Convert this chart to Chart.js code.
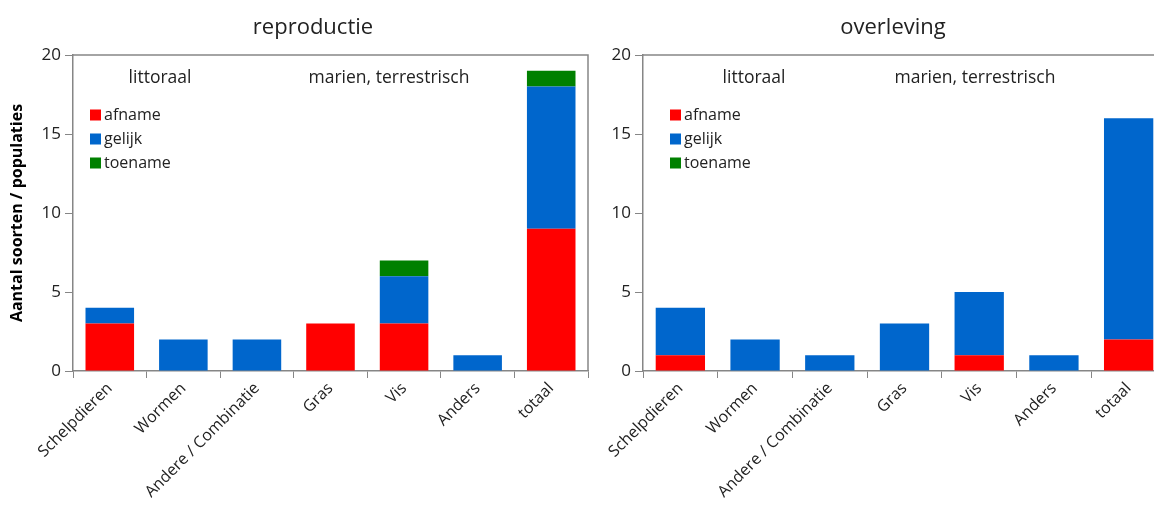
<!DOCTYPE html>
<html>
<head>
<meta charset="utf-8">
<script src="https://cdn.jsdelivr.net/npm/chart.js@4/dist/chart.umd.min.js"></script>
<style>
    html, body { margin: 0; padding: 0; background: #fff; }
    body { width: 1154px; height: 506px; overflow: hidden; position: relative; }
    .panel { position: absolute; top: 0; height: 506px; }
    #left { left: 0; width: 626px; }
    #right { left: 600px; width: 600px; }
</style>
</head>
<body>
<div class="panel" id="left"><canvas id="cLeft"></canvas></div>
<div class="panel" id="right"><canvas id="cRight"></canvas></div>
<script>
/* Two stacked-bar panels: reproduction and survival trends per prey group. */

const categories = ['Schelpdieren', 'Wormen', 'Andere / Combinatie', 'Gras', 'Vis', 'Anders', 'totaal'];
const seriesNames = ['afname', 'gelijk', 'toename'];
const seriesColors = ['#FF0000', '#0066CC', '#008000'];
const yTicks = [0, 5, 10, 15, 20];

const reproAfname  = [3, 0, 0, 3, 3, 0, 9];
const reproGelijk  = [1, 2, 2, 0, 3, 1, 9];
const reproToename = [0, 0, 0, 0, 1, 0, 1];

const survAfname  = [1, 0, 0, 0, 1, 0, 2];
const survGelijk  = [3, 2, 1, 3, 4, 1, 14];
const survToename = [0, 0, 0, 0, 0, 0, 0];

const FONT = '"Open Sans", "Noto Sans", sans-serif';
const TEXT = '#222';
const AXIS = '#868686';

// title, frame, in-plot notes and the legend box (drawn inside the plot area)
const panelDecor = {
    id: 'panelDecor',
    afterDatasetsDraw(chart, args, opts) {
        const { ctx, chartArea: a } = chart;
        ctx.save();
        ctx.strokeStyle = AXIS;
        ctx.lineWidth = 1.5;
        ctx.beginPath();
        ctx.moveTo(a.left, a.top);
        ctx.lineTo(a.right, a.top);
        ctx.lineTo(a.right, a.bottom);
        ctx.stroke();

        ctx.fillStyle = TEXT;
        ctx.textAlign = 'center';
        ctx.textBaseline = 'middle';
        ctx.font = '22px ' + FONT;
        ctx.fillText(opts.title, opts.titleX, 28);

        ctx.font = '17.5px ' + FONT;
        opts.notes.forEach(n => ctx.fillText(n.text, n.x, n.y));

        ctx.font = '16px ' + FONT;
        ctx.textAlign = 'left';
        chart.data.datasets.forEach((ds, i) => {
            const y = opts.legendY + i * 24;
            ctx.fillStyle = ds.backgroundColor;
            ctx.fillRect(opts.legendX, y - 5.5, 11, 11);
            ctx.fillStyle = TEXT;
            ctx.fillText(ds.label, opts.legendX + 14, y);
        });
        ctx.restore();
    }
};

function makePanel(canvasId, title, titleX, values, axisWidth, padRight, notes, legendX, showYTitle) {
    return new Chart(document.getElementById(canvasId), {
        type: 'bar',
        data: {
            labels: categories,
            datasets: values.map((v, i) => ({
                label: seriesNames[i],
                data: v,
                backgroundColor: seriesColors[i],
                borderWidth: 0,
                categoryPercentage: 1,
                barPercentage: 0.66
            }))
        },
        options: {
            responsive: true,
            maintainAspectRatio: false,
            animation: false,
            layout: { padding: { left: 0, right: padRight, top: 55, bottom: 0 } },
            plugins: {
                legend: { display: false },
                tooltip: { enabled: false },
                title: { display: false },
                panelDecor: { title: title, titleX: titleX, notes: notes, legendX: legendX, legendY: 115 }
            },
            scales: {
                x: {
                    stacked: true,
                    afterFit(scale) { scale.height = 135; },
                    border: { color: AXIS, width: 1.5 },
                    grid: { drawOnChartArea: false, color: AXIS, tickLength: 7, offset: true },
                    ticks: {
                        color: TEXT,
                        font: { family: FONT, size: 16 },
                        autoSkip: false,
                        minRotation: 45,
                        maxRotation: 45,
                        padding: 1
                    }
                },
                y: {
                    stacked: true,
                    min: 0,
                    max: 20,
                    afterFit(scale) { scale.width = axisWidth; },
                    afterBuildTicks(scale) { scale.ticks = yTicks.map(v => ({ value: v })); },
                    border: { color: AXIS, width: 1.5 },
                    grid: { drawOnChartArea: false, color: AXIS, tickLength: 8 },
                    ticks: {
                        color: TEXT,
                        font: { family: FONT, size: 17 },
                        padding: 4
                    },
                    title: {
                        display: showYTitle,
                        text: 'Aantal soorten / populaties',
                        color: '#000',
                        font: { family: FONT, size: 16, weight: 'bold' },
                        padding: { top: 8, bottom: 4 }
                    }
                }
            }
        },
        plugins: [panelDecor]
    });
}

makePanel('cLeft', 'reproductie', 313, [reproAfname, reproGelijk, reproToename], 73, 38,
    [{ text: 'littoraal', x: 160, y: 78 }, { text: 'marien, terrestrisch', x: 389, y: 78 }],
    90, true);

makePanel('cRight', 'overleving', 293, [survAfname, survGelijk, survToename], 43, 34,
    [{ text: 'littoraal', x: 154, y: 78 }, { text: 'marien, terrestrisch', x: 375, y: 78 }],
    70, false);
</script>
</body>
</html>
